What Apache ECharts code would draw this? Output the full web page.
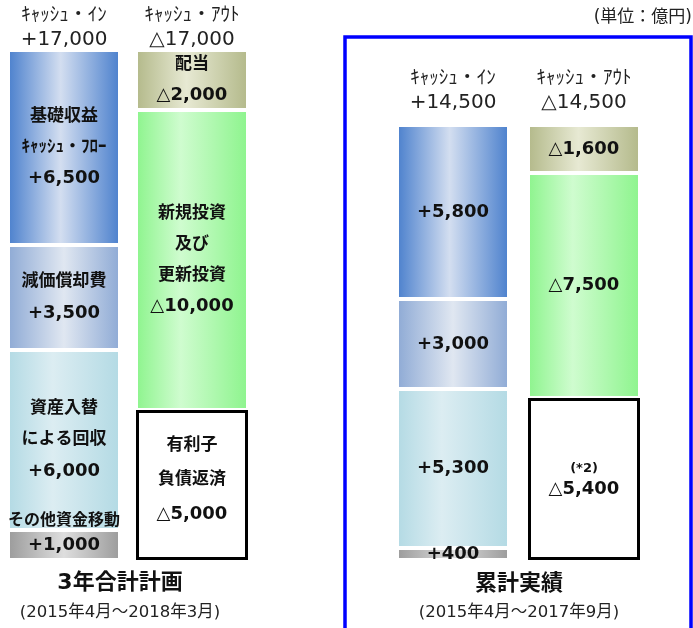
<!DOCTYPE html>
<html>
<head>
<meta charset="utf-8">
<script src="https://cdn.jsdelivr.net/npm/echarts@6/dist/echarts.min.js"></script>
<style>
  html, body { margin: 0; padding: 0; background: #fff; }
  #chart { width: 693px; height: 628px; }
</style>
</head>
<body>
<div id="chart"></div>
<script>
// Column headers
const barHeads = ['ｷｬｯｼｭ・ｲﾝ', 'ｷｬｯｼｭ・ｱｳﾄ'];

// Cash-in components (top to bottom), unit: 億円
const inNames = ['基礎収益\nｷｬｯｼｭ・ﾌﾛｰ', '減価償却費', '資産入替\nによる回収', 'その他資金移動'];
const planIn = [6500, 3500, 6000, 1000];
const actualIn = [5800, 3000, 5300, 400];

// Cash-out components (top to bottom)
const outNames = ['配当', '新規投資\n及び\n更新投資', '有利子\n負債返済'];
const planOut = [2000, 10000, 5000];
const actualOut = [1600, 7500, 5400];

// Panel titles
const panelTitles = ['3年合計計画', '累計実績'];
const panelPeriods = ['(2015年4月～2018年3月)', '(2015年4月～2017年9月)'];
const unitText = '(単位：億円)';

const FONT = '"DejaVu Sans", "Noto Sans CJK JP", sans-serif';
const PX_PER_UNIT = 0.03;   // shared vertical scale of both panels
const BASE_Y = 560;

function fmt(v) { return v.toLocaleString('en-US'); }

function grad(edge, mid, pos) {
  return new echarts.graphic.LinearGradient(0, 0, 1, 0, [
    { offset: 0, color: edge },
    { offset: pos, color: mid },
    { offset: 1, color: edge }
  ]);
}

const inFills = [
  grad('#4b80cd', '#d3def0', 0.47),
  grad('#8eaad5', '#e0e7f1', 0.5),
  grad('#b3dae4', '#dcedf2', 0.4),
  grad('#9b9b9b', '#dedede', 0.5)
];
const outFills = [
  grad('#b3b98a', '#e7e9d3', 0.45),
  grad('#8df48d', '#cffccf', 0.4),
  '#ffffff'
];

const sum = a => a.reduce((s, v) => s + v, 0);

const rich = {
  n: { fontFamily: FONT, fontWeight: 'bold', fontSize: 17, lineHeight: 31, color: '#111' },
  v: { fontFamily: FONT, fontWeight: 'bold', fontSize: 18, lineHeight: 31, color: '#111' },
  o: { fontFamily: FONT, fontWeight: 'bold', fontSize: 16, lineHeight: 24, color: '#111' },
  ov: { fontFamily: FONT, fontWeight: 'bold', fontSize: 18, lineHeight: 24, color: '#111' },
  s: { fontFamily: FONT, fontWeight: 'bold', fontSize: 13, lineHeight: 20, color: '#111' },
  sv: { fontFamily: FONT, fontWeight: 'bold', fontSize: 18, lineHeight: 20, color: '#111' },
  bv: { fontFamily: FONT, fontWeight: 'bold', fontSize: 18, lineHeight: 34, color: '#111' },
  bn: { fontFamily: FONT, fontWeight: 'bold', fontSize: 17, lineHeight: 34, color: '#111' },
  hv: { fontFamily: FONT, fontSize: 20, lineHeight: 24, color: '#222' },
  hn: { fontFamily: FONT, fontSize: 19, lineHeight: 24, color: '#222' },
  pv: { fontFamily: FONT, fontWeight: 'bold', fontSize: 18, lineHeight: 20, color: '#111' }
};

function labelText(nameLines, valueStr, nStyle, vStyle) {
  const parts = nameLines ? nameLines.split('\n').map(l => '{' + nStyle + '|' + l + '}') : [];
  parts.push('{' + vStyle + '|' + valueStr + '}');
  return parts.join('\n');
}

// Build the stacked series for one panel
function panelSeries(gridIdx, inVals, outVals, withNames) {
  const series = [];
  const stack = 'p' + gridIdx;
  // cash-in stacked bottom-up
  for (let i = inVals.length - 1; i >= 0; i--) {
    const v = inVals[i];
    const last = i === inVals.length - 1;
    let text, offset = [0, 0];
    if (last) {
      if (withNames) {
        text = labelText(inNames[i], '+' + fmt(v), 'o', 'ov');
        offset = [0, -12];
      } else {
        text = labelText('', '+' + fmt(v), 'o', 'pv');
      }
    } else {
      text = labelText(withNames ? inNames[i] : '', '+' + fmt(v), 'n', 'v');
    }
    series.push({
      type: 'bar', xAxisIndex: gridIdx, yAxisIndex: gridIdx, stack,
      barWidth: 112,
      data: [v, '-'],
      itemStyle: { color: inFills[i], borderColor: '#ffffff', borderWidth: 2 },
      label: { show: true, position: 'inside', offset, formatter: () => text, rich },
      silent: true
    });
  }
  // cash-out stacked bottom-up
  for (let i = outVals.length - 1; i >= 0; i--) {
    const v = outVals[i];
    const box = i === outVals.length - 1;
    let text;
    if (box) {
      text = withNames ? labelText(outNames[i], '△' + fmt(v), 'bn', 'bv')
                       : labelText('(*2)', '△' + fmt(v), 's', 'sv');
    } else {
      text = labelText(withNames ? outNames[i] : '', '△' + fmt(v), 'n', 'v');
    }
    series.push({
      type: 'bar', xAxisIndex: gridIdx, yAxisIndex: gridIdx, stack,
      barWidth: 112,
      data: ['-', v],
      itemStyle: box
        ? { color: outFills[i], borderColor: '#000000', borderWidth: 3 }
        : { color: outFills[i], borderColor: '#ffffff', borderWidth: 2 },
      label: { show: true, position: 'inside', offset: box && withNames ? [0, -5] : [0, 0], formatter: () => text, rich },
      silent: true
    });
  }
  return series;
}

const totals = [[sum(planIn), sum(planOut)], [sum(actualIn), sum(actualOut)]];
const gridTops = totals.map(t => BASE_Y - Math.max(t[0], t[1]) * PX_PER_UNIT);

function headCats(t) {
  return [
    '{hn|' + barHeads[0] + '}\n{hv|+' + fmt(t[0]) + '}',
    '{hn|' + barHeads[1] + '}\n{hv|△' + fmt(t[1]) + '}'
  ];
}

const chart = echarts.init(document.getElementById('chart'), null, { renderer: 'canvas' });

chart.setOption({
  backgroundColor: '#ffffff',
  animation: false,
  grid: [
    { left: -4, width: 260, top: gridTops[0], height: BASE_Y - gridTops[0] },
    { left: 387.5, width: 262, top: gridTops[1], height: BASE_Y - gridTops[1] }
  ],
  xAxis: [0, 1].map(g => ({
    type: 'category', gridIndex: g, position: 'top',
    data: headCats(totals[g]),
    axisLine: { show: false }, axisTick: { show: false },
    axisLabel: { margin: g === 0 ? -2 : 10, interval: 0, rich, color: '#222' }
  })),
  yAxis: [0, 1].map(g => ({
    type: 'value', gridIndex: g, min: 0, max: Math.max(totals[g][0], totals[g][1]),
    show: false, splitLine: { show: false }
  })),
  series: [
    ...panelSeries(0, planIn, planOut, true),
    ...panelSeries(1, actualIn, actualOut, false)
  ],
  graphic: [
    {
      type: 'rect', silent: true, z: 0,
      shape: { x: 345, y: 37, width: 346, height: 620 },
      style: { fill: 'none', stroke: '#0000ff', lineWidth: 3.5 }
    },
    {
      type: 'text', x: 692, y: 18,
      style: { text: unitText, font: '17px ' + FONT, fill: '#222', textAlign: 'right', textVerticalAlign: 'middle' }
    },
    {
      type: 'text', x: 120, y: 583,
      style: { text: panelTitles[0], font: 'bold 22px ' + FONT, fill: '#111', textAlign: 'center', textVerticalAlign: 'middle' }
    },
    {
      type: 'text', x: 120, y: 613,
      style: { text: panelPeriods[0], font: '16.5px ' + FONT, fill: '#222', textAlign: 'center', textVerticalAlign: 'middle' }
    },
    {
      type: 'text', x: 519, y: 584,
      style: { text: panelTitles[1], font: 'bold 22px ' + FONT, fill: '#111', textAlign: 'center', textVerticalAlign: 'middle' }
    },
    {
      type: 'text', x: 519, y: 613,
      style: { text: panelPeriods[1], font: '16.5px ' + FONT, fill: '#222', textAlign: 'center', textVerticalAlign: 'middle' }
    }
  ]
});
</script>
</body>
</html>
